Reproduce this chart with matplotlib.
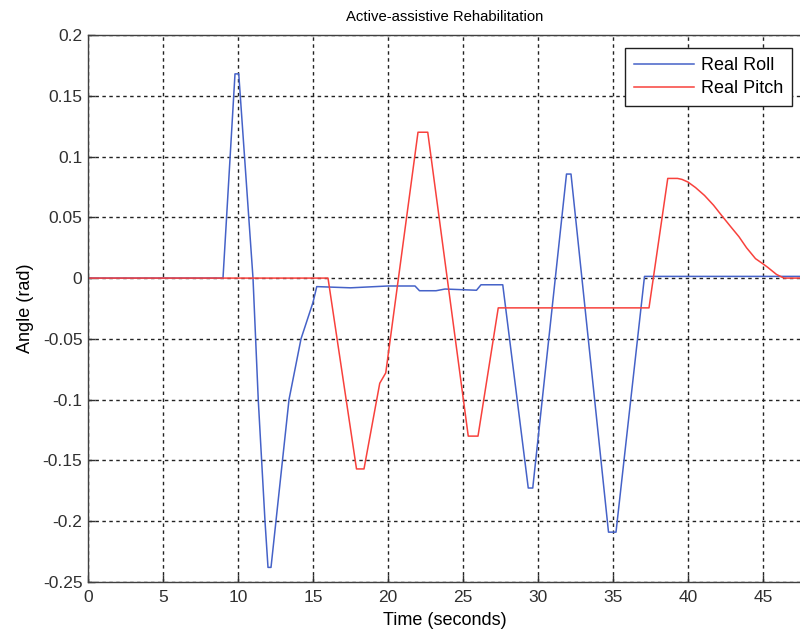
import numpy as np
from matplotlib import pyplot as plt

# 読み取った値 (時間 [s], 角度 [rad])
rollTime = [0, 9.0, 9.8, 10.05, 11.0, 11.35, 11.8, 12.0, 12.2, 13.4, 14.2, 15.0,
            15.25, 17.5, 20.0, 21.8, 22.1, 23.2, 23.8, 25.9, 26.2, 27.65, 29.35,
            29.65, 31.9, 32.2, 34.7, 35.2, 37.1, 47.6]
rollAngle = [0, 0, 0.168, 0.168, 0.0, -0.1, -0.2, -0.238, -0.238, -0.1, -0.05, -0.02,
             -0.007, -0.008, -0.0065, -0.0065, -0.0104, -0.0104, -0.009, -0.010, -0.0055,
             -0.0055, -0.1727, -0.1727, 0.0856, 0.0856, -0.209, -0.209, 0.0014, 0.0014]

pitchTime = [0, 16.0, 17.9, 18.4, 19.45, 19.85, 22.0, 22.65, 25.35, 26.0, 27.35,
             37.4, 38.65, 39.3, 39.6, 40.0, 40.5, 41.1, 41.7, 42.25, 42.8, 43.4, 43.9,
             44.5, 45.0, 45.3, 45.6, 45.9, 46.4, 47.6]
pitchAngle = [0, 0, -0.157, -0.157, -0.0865, -0.078, 0.12, 0.12, -0.130, -0.130, -0.0245,
              -0.0245, 0.082, 0.082, 0.0812, 0.079, 0.0745, 0.068, 0.060, 0.0514, 0.043,
              0.034, 0.025, 0.016, 0.0117, 0.009, 0.006, 0.003, 0.0, 0.0]

xTicks = list(range(0, 50, 5))
yTicks = [-0.25, -0.2, -0.15, -0.1, -0.05, 0, 0.05, 0.1, 0.15, 0.2]

plt.rcParams['font.family'] = ['Liberation Sans', 'DejaVu Sans']
plt.rcParams['axes.unicode_minus'] = False

fig = plt.figure(figsize=(8, 6.35), dpi=100)
ax = fig.add_axes([0.11, 0.0835, 0.8925, 0.8614])

ax.plot(rollTime, rollAngle, color='#4562c8', lw=1.1, label='Real Roll')
ax.plot(pitchTime, pitchAngle, color='#f8413c', lw=1.1, label='Real Pitch')

ax.set_xlim(0, 47.6)
ax.set_ylim(-0.25, 0.2)
ax.set_xticks(xTicks)
ax.set_yticks(yTicks)
ax.set_yticklabels([f'{v:g}' for v in yTicks])
ax.tick_params(direction='in', length=5, width=1, colors='#303030', labelsize=12.5)
ax.tick_params(axis='x', pad=6)
ax.tick_params(axis='y', pad=4)
for s in ax.spines.values():
    s.set_color('#404040')
    s.set_linewidth(1)

ax.grid(True, color='#222222', linestyle=(0, (2.5, 2.5)), linewidth=1)

ax.set_title('Active-assistive Rehabilitation', fontsize=10.7, pad=10)
ax.set_xlabel('Time (seconds)', fontsize=13, labelpad=5)
ax.set_ylabel('Angle (rad)', fontsize=13, labelpad=6)

leg = ax.legend(loc='upper right', bbox_to_anchor=(0.986, 0.976), borderaxespad=0,
                fontsize=13, fancybox=False, framealpha=1, edgecolor='#202020',
                handlelength=3.3, handletextpad=0.4, borderpad=0.5, labelspacing=0.35)
leg.get_frame().set_linewidth(1)

fig.savefig('out.png', dpi=100)
